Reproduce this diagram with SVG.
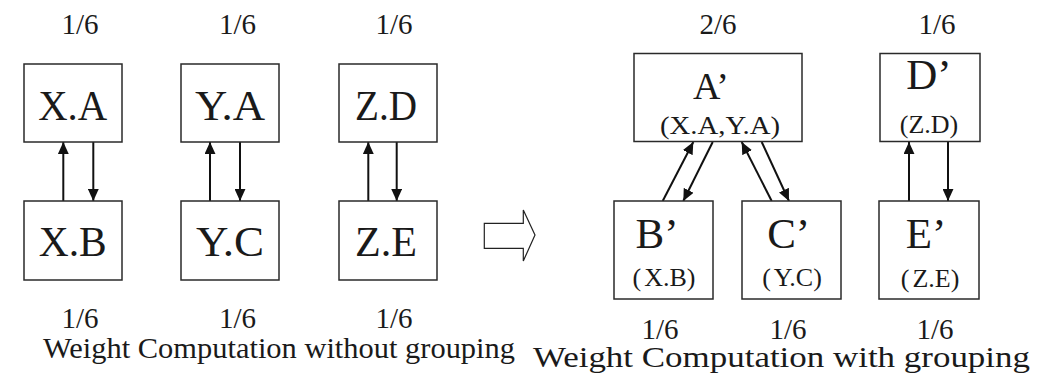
<svg xmlns="http://www.w3.org/2000/svg" width="1037" height="385" viewBox="0 0 1037 385">
<style>
text{fill:#1a1a1a;text-anchor:middle}
.box{fill:#fff;stroke:#2a2a2a;stroke-width:1.5}
.w{font-size:29px}
.big{font-size:43px}
.sub{font-size:26px}
.title{font-size:30px;text-anchor:start}
.edge{stroke:#111;stroke-width:2;fill:none;marker-end:url(#ah)}
</style>
<defs>
<marker id="ah" markerUnits="userSpaceOnUse" markerWidth="12" markerHeight="11" viewBox="0 0 11 10" refX="11" refY="5" orient="auto">
<path d="M0,0 L11,5 L0,10 z" fill="#111"/>
</marker>
</defs>
<rect width="1037" height="385" fill="#fff"/>

<g id="connectors">
<line class="edge" x1="63.3" y1="201" x2="63.3" y2="142"/>
<line class="edge" x1="93.3" y1="142" x2="93.3" y2="201"/>
<line class="edge" x1="210" y1="201" x2="210" y2="142"/>
<line class="edge" x1="240" y1="142" x2="240" y2="201"/>
<line class="edge" x1="368.3" y1="201" x2="368.3" y2="142"/>
<line class="edge" x1="396.7" y1="142" x2="396.7" y2="201"/>
<line class="edge" x1="662.7" y1="201" x2="693.3" y2="142"/>
<line class="edge" x1="712.7" y1="142" x2="683.3" y2="201"/>
<line class="edge" x1="771.7" y1="201" x2="741.7" y2="142"/>
<line class="edge" x1="761.7" y1="142" x2="789" y2="201"/>
<line class="edge" x1="909" y1="201" x2="909" y2="142"/>
<line class="edge" x1="948" y1="142" x2="948" y2="201"/>
</g>

<g id="transform-arrow">
<polygon points="484.3,223.3 523.3,223.3 523.3,210 535,235 523.3,261 523.3,248.3 484.3,248.3" fill="#fff" stroke="#222" stroke-width="1.2"/>
</g>

<g font-family="Liberation Serif, Times New Roman, serif">
<g id="XA"><text class="w" x="80" y="34">1/6</text><rect class="box" x="24" y="64" width="98" height="78"/><text class="big" x="72.7" y="120" textLength="69" lengthAdjust="spacingAndGlyphs">X.A</text></g>
<g id="YA"><text class="w" x="237.5" y="34">1/6</text><rect class="box" x="181" y="64" width="98" height="78"/><text class="big" x="230" y="120" textLength="70" lengthAdjust="spacingAndGlyphs">Y.A</text></g>
<g id="ZD"><text class="w" x="394" y="34">1/6</text><rect class="box" x="339" y="64" width="98" height="78"/><text class="big" x="386" y="120" textLength="62" lengthAdjust="spacingAndGlyphs">Z.D</text></g>
<g id="XB"><rect class="box" x="24" y="201" width="98" height="79"/><text class="big" x="72.7" y="256" textLength="68" lengthAdjust="spacingAndGlyphs">X.B</text><text class="w" x="80" y="328">1/6</text></g>
<g id="YC"><rect class="box" x="181" y="201" width="98" height="79"/><text class="big" x="230" y="256" textLength="68" lengthAdjust="spacingAndGlyphs">Y.C</text><text class="w" x="237.5" y="328">1/6</text></g>
<g id="ZE"><rect class="box" x="339" y="201" width="98" height="79"/><text class="big" x="386" y="256" textLength="62" lengthAdjust="spacingAndGlyphs">Z.E</text><text class="w" x="394" y="328">1/6</text></g>

<g id="Aprime"><text class="w" x="718" y="34">2/6</text><rect class="box" x="634" y="53.5" width="168" height="88"/><text x="711" y="99" style="font-size:38px">A’</text><text class="sub" x="720" y="134" textLength="120" lengthAdjust="spacingAndGlyphs">(X.A,Y.A)</text></g>
<g id="Dprime"><text class="w" x="937" y="34">1/6</text><rect class="box" x="880" y="53.5" width="100" height="88"/><text class="big" x="929" y="89">D’</text><text class="sub" x="929" y="133">(Z.D)</text></g>
<g id="Bprime"><rect class="box" x="614" y="201" width="99" height="98"/><text class="big" x="657" y="248">B’</text><text class="sub" x="664" y="286">(<tspan dx="3">X.B)</tspan></text><text class="w" x="660" y="339">1/6</text></g>
<g id="Cprime"><rect class="box" x="742" y="201" width="99" height="98"/><text class="big" x="788.7" y="248">C’</text><text class="sub" x="792" y="286">(<tspan dx="3">Y.C)</tspan></text><text class="w" x="788" y="339">1/6</text></g>
<g id="Eprime"><rect class="box" x="879" y="201" width="100" height="98"/><text class="big" x="926" y="248">E’</text><text class="sub" x="930" y="287">(<tspan dx="3">Z.E)</tspan></text><text class="w" x="935" y="339">1/6</text></g>

<text class="title" x="43" y="358" textLength="472" lengthAdjust="spacingAndGlyphs">Weight Computation without grouping</text>
<text class="title" x="533" y="367" textLength="497" lengthAdjust="spacingAndGlyphs">Weight Computation with grouping</text>
</g>
</svg>
